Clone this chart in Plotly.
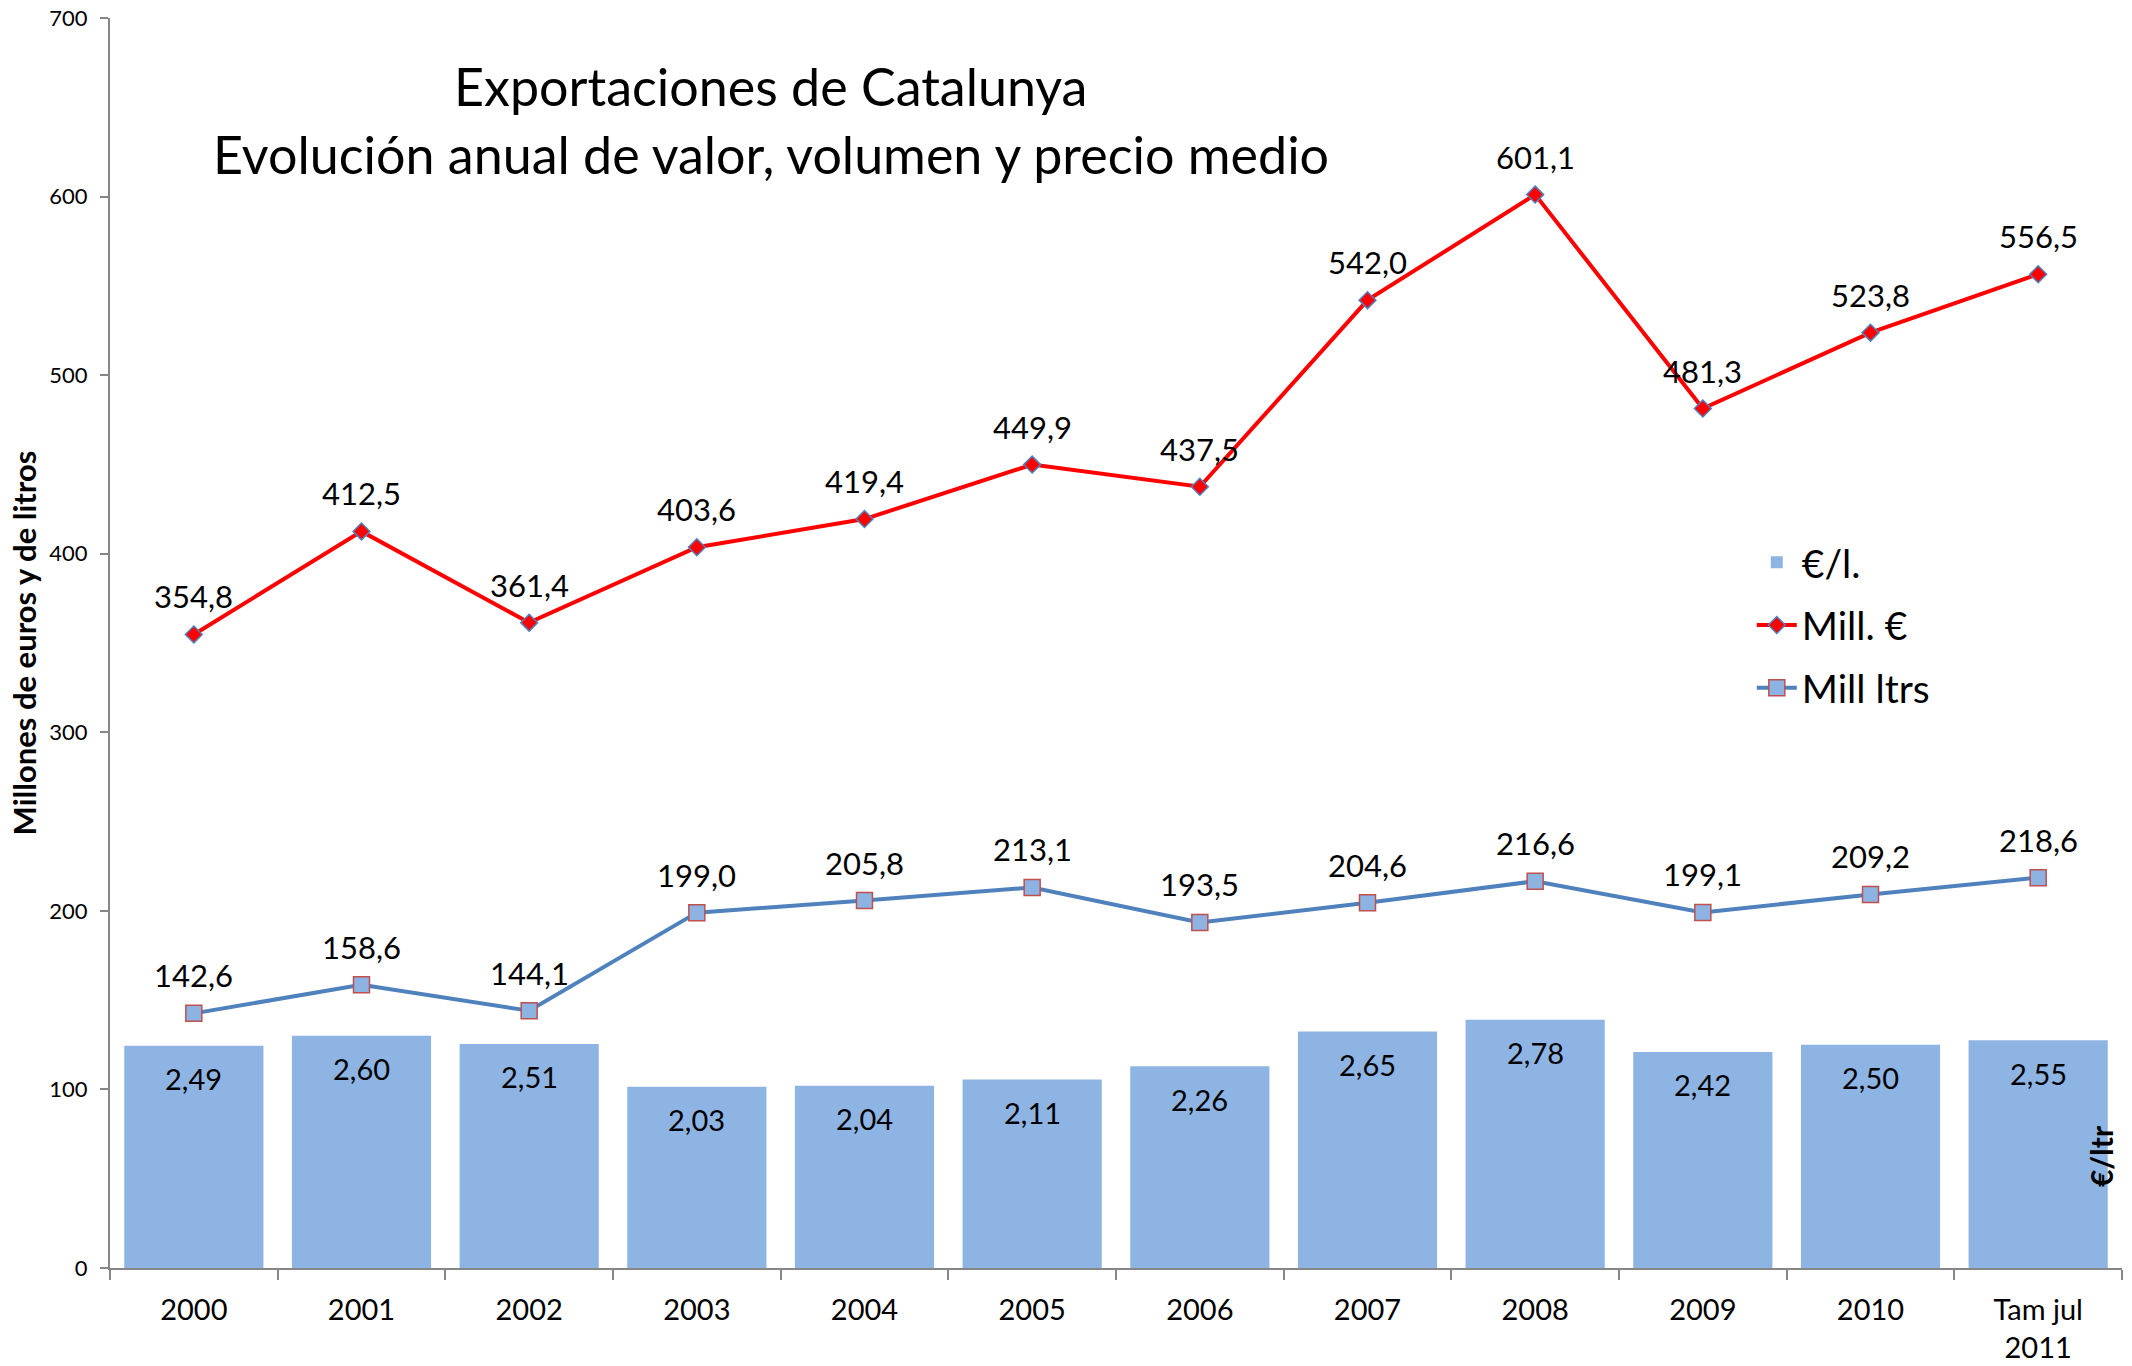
import plotly.graph_objects as go

categories = ["2000", "2001", "2002", "2003", "2004", "2005", "2006", "2007", "2008", "2009", "2010", "Tam jul<br>2011"]
mill_eur = [354.8, 412.5, 361.4, 403.6, 419.4, 449.9, 437.5, 542.0, 601.1, 481.3, 523.8, 556.5]
mill_ltrs = [142.6, 158.6, 144.1, 199.0, 205.8, 213.1, 193.5, 204.6, 216.6, 199.1, 209.2, 218.6]
eur_per_l = [2.49, 2.60, 2.51, 2.03, 2.04, 2.11, 2.26, 2.65, 2.78, 2.42, 2.50, 2.55]
y_ticks = [0, 100, 200, 300, 400, 500, 600, 700]

FONT = "Lato"

def fmt(v, d):
    return f"{v:.{d}f}".replace(".", ",")

fig = go.Figure()

fig.add_trace(go.Bar(
    x=categories, y=eur_per_l, name="€/l.", yaxis="y2",
    marker=dict(color="#8EB4E3", line=dict(width=0)),
    legendgroup="a",
))
fig.add_trace(go.Scatter(
    x=categories, y=mill_eur, name="Mill. €", mode="lines+markers",
    line=dict(color="#FF0000", width=4),
    marker=dict(symbol="diamond", size=13, color="#FF0000", line=dict(color="#4F81BD", width=1.5)),
    legendgroup="b",
))
fig.add_trace(go.Scatter(
    x=categories, y=mill_ltrs, name="Mill ltrs", mode="lines+markers",
    line=dict(color="#4F81BD", width=4),
    marker=dict(symbol="square", size=16, color="#8DB3E2", line=dict(color="#C0504D", width=1.5)),
    legendgroup="c",
))

LABEL = dict(family=FONT, size=31, color="black")
annotations = []
for i, v in enumerate(mill_eur):
    annotations.append(dict(x=i, y=v, xref="x", yref="y", text=fmt(v, 1), showarrow=False,
                            yshift=38, font=LABEL))
for i, v in enumerate(mill_ltrs):
    annotations.append(dict(x=i, y=v, xref="x", yref="y", text=fmt(v, 1), showarrow=False,
                            yshift=38, font=LABEL))
for i, v in enumerate(eur_per_l):
    annotations.append(dict(x=i, y=v, xref="x", yref="y2", text=fmt(v, 2), showarrow=False,
                            yshift=-33, font=dict(family=FONT, size=29, color="black")))

annotations.append(dict(x=0.3285, y=0.9456, xref="paper", yref="paper", xanchor="center", yanchor="middle",
                        text="Exportaciones de Catalunya",
                        showarrow=False, font=dict(family=FONT, size=52, color="black")))
annotations.append(dict(x=0.3285, y=0.891, xref="paper", yref="paper", xanchor="center", yanchor="middle",
                        text="Evolución anual de valor, volumen y precio medio",
                        showarrow=False, font=dict(family=FONT, size=52, color="black")))
annotations.append(dict(x=0.9896, y=0.0896, xref="paper", yref="paper", xanchor="center", yanchor="middle",
                        text="<b>€/ltr</b>",
                        textangle=-90, showarrow=False, font=dict(family=FONT, size=30, color="black")))

fig.update_layout(
    width=2132, height=1366,
    margin=dict(l=110, r=10, t=18, b=98, autoexpand=False),
    plot_bgcolor="white", paper_bgcolor="white",
    bargap=0.17,
    font=dict(family=FONT, color="black"),
    showlegend=True,
    legend=dict(x=0.816, y=0.59, xanchor="left", yanchor="top",
                font=dict(family=FONT, size=39, color="black"),
                traceorder="grouped", tracegroupgap=9, itemwidth=40,
                bgcolor="rgba(0,0,0,0)"),
    xaxis=dict(
        type="category", range=[-0.5, 11.5], showline=True, linecolor="#868686", linewidth=2,
        ticks="outside", ticklen=10, tickcolor="#868686", tickwidth=2,
        tickson="boundaries", showgrid=False, tickangle=0, automargin=False,
        tickfont=dict(family=FONT, size=29, color="black"),
        ticklabelstandoff=15,
    ),
    yaxis=dict(
        range=[0, 700], tickvals=y_ticks, showline=True, linecolor="#868686", linewidth=2,
        ticks="outside", ticklen=8, tickcolor="#868686", tickwidth=2, showgrid=False,
        zeroline=False, automargin=False,
        tickfont=dict(family=FONT, size=22, color="black"),
        ticklabelstandoff=8,
        title=dict(text="<b>Millones de euros y de litros</b>",
                   font=dict(family=FONT, size=31, color="black"), standoff=3),
    ),
    yaxis2=dict(
        range=[0, 14], overlaying="y", side="right", showticklabels=False,
        showgrid=False, zeroline=False, showline=False, ticks="", automargin=False,
    ),
    annotations=annotations,
)

fig.write_html("out.html", config={"displayModeBar": False},
               post_script="document.body.style.margin='0';document.body.style.overflow='hidden';")
